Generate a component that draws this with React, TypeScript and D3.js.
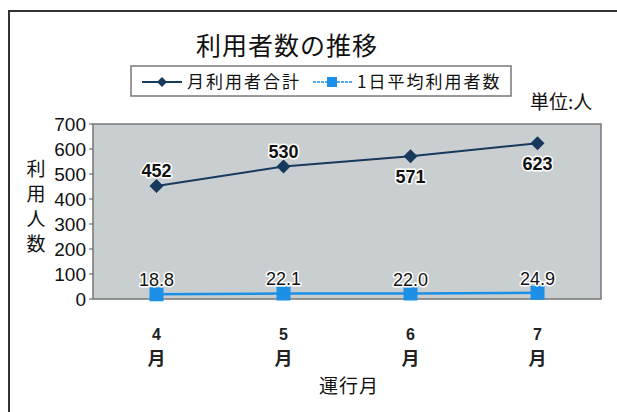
import React from "react";
import * as d3 from "d3";

const months = ["4", "5", "6", "7"];
const monthlyTotal = [452, 530, 571, 623];
const dailyAvg = [18.8, 22.1, 22.0, 24.9];
const yTicks = [0, 100, 200, 300, 400, 500, 600, 700];
const totalLabelAbove = [true, true, false, false];

const W = 617;
const H = 412;
const plot = { left: 93, right: 601, top: 124, bottom: 299 };
const FONT = "'Liberation Sans', 'Noto Sans CJK JP', sans-serif";
const JP = "'Noto Sans CJK JP', sans-serif";

export default function App() {
  const x = d3.scaleBand().domain(months).range([plot.left, plot.right]);
  const y = d3.scaleLinear().domain([0, 700]).range([plot.bottom, plot.top]);
  const cx = (m: string) => (x(m) as number) + x.bandwidth() / 2;
  const line = d3.line<number>().x((_, i) => cx(months[i])).y((d) => y(d));
  const navy = "#17395c";
  const blue = "#1c8fe6";
  const halo = { stroke: "#ffffff", strokeWidth: 3, paintOrder: "stroke" as const, strokeLinejoin: "round" as const };

  return (
    <svg width={W} height={H} style={{ position: "absolute", left: 0, top: 0, background: "#fff" }}>
      {/* outer frame */}
      <path d={`M9,${H} L9,11 L${W},11`} fill="none" stroke="#333" strokeWidth={2} />
      {/* title */}
      <text x={287} y={55} textAnchor="middle" fontFamily={JP} fontSize={25} fill="#111" letterSpacing={1}>利用者数の推移</text>
      {/* legend */}
      <rect x={131} y={66} width={380} height={30} fill="#fff" stroke="#777" strokeWidth={1.5} />
      <line x1={142} x2={182} y1={82} y2={82} stroke={navy} strokeWidth={2} />
      <path d="M162,77 L167,82 L162,87 L157,82 Z" fill={navy} />
      <text x={187} y={88} fontFamily={JP} fontSize={17} fill="#111" letterSpacing={2}>月利用者合計</text>
      <line x1={313} x2={352} y1={82} y2={82} stroke={blue} strokeWidth={1.5} strokeDasharray="3,1" />
      <rect x={327} y={77} width={10} height={10} fill={blue} />
      <text x={357} y={88} fontFamily={JP} fontSize={17} fill="#111" letterSpacing={2}>1日平均利用者数</text>
      <text x={530} y={109} fontFamily={JP} fontSize={19} fill="#111">単位:人</text>
      {/* plot area */}
      <rect x={plot.left} y={plot.top} width={plot.right - plot.left} height={plot.bottom - plot.top} fill="#c9ced1" stroke="#777" strokeWidth={1.5} />
      {/* y axis ticks */}
      {yTicks.map((t) => (
        <g key={t}>
          <line x1={plot.left - 4} x2={plot.left} y1={y(t)} y2={y(t)} stroke="#555" />
          <text x={86} y={y(t) + 7} textAnchor="end" fontFamily={FONT} fontSize={19} fill="#111">{t}</text>
        </g>
      ))}
      {/* y axis label */}
      {["利", "用", "人", "数"].map((c, i) => (
        <text key={i} x={36} y={176 + i * 25} textAnchor="middle" fontFamily={JP} fontSize={19} fill="#111">{c}</text>
      ))}
      {/* x labels */}
      {months.map((m) => (
        <g key={m}>
          <text x={cx(m)} y={340} textAnchor="middle" fontFamily={FONT} fontWeight="bold" fontSize={16} fill="#222">{m}</text>
          <text x={cx(m)} y={365} textAnchor="middle" fontFamily={JP} fontWeight="bold" fontSize={18} fill="#222">月</text>
        </g>
      ))}
      <text x={349} y={393} textAnchor="middle" fontFamily={JP} fontSize={19} fill="#111" letterSpacing={1}>運行月</text>
      {/* series 2 */}
      <path d={line(dailyAvg) || ""} fill="none" stroke={blue} strokeWidth={2.5} />
      {dailyAvg.map((v, i) => (
        <g key={i}>
          <rect x={cx(months[i]) - 7} y={y(v) - 7} width={14} height={14} fill={blue} />
          <text x={cx(months[i])} y={y(v) - 8} textAnchor="middle" fontFamily={FONT} fontSize={18} fill="#111" {...halo}>{v.toFixed(1)}</text>
        </g>
      ))}
      {/* series 1 */}
      <path d={line(monthlyTotal) || ""} fill="none" stroke={navy} strokeWidth={2} />
      {monthlyTotal.map((v, i) => {
        const px = cx(months[i]);
        const py = y(v);
        return (
          <g key={i}>
            <path d={`M${px},${py - 7} L${px + 7},${py} L${px},${py + 7} L${px - 7},${py} Z`} fill={navy} />
            <text x={px} y={totalLabelAbove[i] ? py - 9 : py + 27} textAnchor="middle" fontFamily={FONT} fontWeight="bold" fontSize={18} fill="#111" {...halo}>{v}</text>
          </g>
        );
      })}
    </svg>
  );
}
